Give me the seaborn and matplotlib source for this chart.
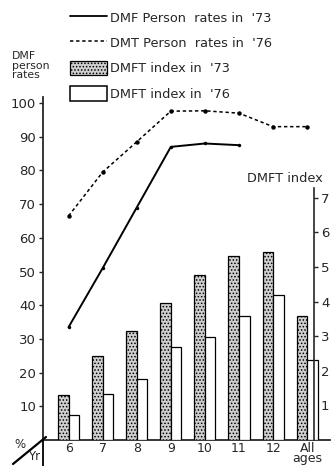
import numpy as np
import pandas as pd
import matplotlib
matplotlib.use("Agg")
import matplotlib.pyplot as plt
from matplotlib.lines import Line2D
from matplotlib.patches import Patch
import seaborn as sns

# ---- data ----
categories = ["6", "7", "8", "9", "10", "11", "12", "All\nages"]
dmf_rate_73 = [33.5, 51, 69, 87, 88, 87.5, np.nan, np.nan]
dmt_rate_76 = [66.5, 79.5, 88.5, 97.6, 97.7, 97, 93, 93]
dmft_73 = [1.30, 2.43, 3.16, 3.96, 4.77, 5.33, 5.42, 3.58]
dmft_76 = [0.72, 1.33, 1.76, 2.69, 2.98, 3.58, 4.19, 2.31]
left_ticks = [10, 20, 30, 40, 50, 60, 70, 80, 90, 100]
right_ticks = [1, 2, 3, 4, 5, 6, 7]
legend_labels = ["DMF Person  rates in  '73", "DMT Person  rates in  '76",
                 "DMFT index in  '73", "DMFT index in  '76"]

sns.set_style("ticks")
plt.rcParams["font.family"] = ["DejaVu Sans"]
plt.rcParams["hatch.linewidth"] = 0.7

W, H = 332, 466
fig = plt.figure(figsize=(W / 100, H / 100), dpi=100)
fig.patch.set_facecolor("white")


def fx(x):
    return x / W


def fy(y):
    return 1 - y / H


ax = fig.add_axes([fx(43), 26 / H, (330 - 43) / W, (440 - 97) / H])
ax.set_facecolor("none")
ax2 = ax.twinx()

pos = list(range(len(categories)))
lines_df = pd.DataFrame({"pos": pos, "r73": dmf_rate_73, "r76": dmt_rate_76})
sns.lineplot(data=lines_df, x="pos", y="r73", ax=ax, color="black", lw=1.4,
             marker="o", markersize=2.5, markeredgewidth=0)
sns.lineplot(data=lines_df, x="pos", y="r76", ax=ax, color="black", lw=1.1,
             linestyle=(0, (2.2, 1.8)), marker="o", markersize=3.2, markeredgewidth=0)

bars_df = pd.DataFrame({
    "age": categories * 2,
    "year": ["73"] * len(categories) + ["76"] * len(categories),
    "dmft": dmft_73 + dmft_76,
})
sns.barplot(data=bars_df, x="age", y="dmft", hue="year", ax=ax2, width=0.62,
            gap=0, palette=["#cfcfcf", "white"], edgecolor="black",
            linewidth=0.9, legend=False, order=categories)
for p in ax2.containers[0]:
    p.set_hatch(".....")
    p.set_edgecolor("black")

# scales
ax.set_xlim(-0.75, 7.67)
ax.set_ylim(0, 101.8)
ax2.set_ylim(0, 9.91)

ax.set_yticks(left_ticks)
ax.set_yticklabels([str(t) for t in left_ticks])
ax2.set_yticks(right_ticks)
ax2.set_yticklabels([str(t) for t in right_ticks])
ax.set_xticks(pos)
ax.set_xticklabels(categories, fontsize=9, linespacing=0.72)
ax.set_xlabel("")
ax.set_ylabel("")
ax2.set_xlabel("")
ax2.set_ylabel("")

ax.tick_params(axis="x", length=0, pad=1.5, labelsize=9)
ax.tick_params(axis="y", length=3, width=1, pad=2, labelsize=9.5, direction="out")
ax2.tick_params(axis="y", length=3, width=1, pad=2, labelsize=9.5, direction="out")

for s in ["top", "right"]:
    ax.spines[s].set_visible(False)
for s in ["top", "left", "bottom"]:
    ax2.spines[s].set_visible(False)
ax.spines["left"].set_linewidth(1.3)
ax.spines["bottom"].set_linewidth(1.3)
ax2.spines["right"].set_position(("data", 7.2))
ax2.spines["right"].set_bounds(0, 7.28)
ax2.spines["right"].set_linewidth(1.2)

# corner decorations
fig.add_artist(Line2D([fx(43), fx(43)], [fy(440), fy(466)], color="black", lw=1.3))
fig.add_artist(Line2D([fx(13), fx(46)], [fy(464), fy(437)], color="black", lw=1.6))
fig.text(fx(14), fy(444), "%", fontsize=8.5, ha="left", va="center")
fig.text(fx(28), fy(457), "Yr", fontsize=8.5, ha="left", va="center")

# axis titles
fig.text(fx(12), fy(51), "DMF\nperson\nrates", fontsize=7.8, ha="left", va="top",
         linespacing=0.95)
fig.text(fx(247), fy(179), "DMFT index", fontsize=9.3, ha="left", va="center")

# legend
handles = [
    Line2D([], [], color="black", lw=1.3),
    Line2D([], [], color="black", lw=1.1, linestyle=(0, (2.2, 1.8))),
    Patch(facecolor="#cfcfcf", edgecolor="black", hatch=".....", lw=0.9),
    Patch(facecolor="white", edgecolor="black", lw=1.1),
]
fig.legend(handles, legend_labels, loc="upper left",
           bbox_to_anchor=(fx(70), fy(10)), frameon=False, borderpad=0,
           borderaxespad=0, handlelength=2.9, handleheight=1.4,
           handletextpad=0.2, labelspacing=0.8, fontsize=9.3)

fig.savefig("out.png", dpi=100)
